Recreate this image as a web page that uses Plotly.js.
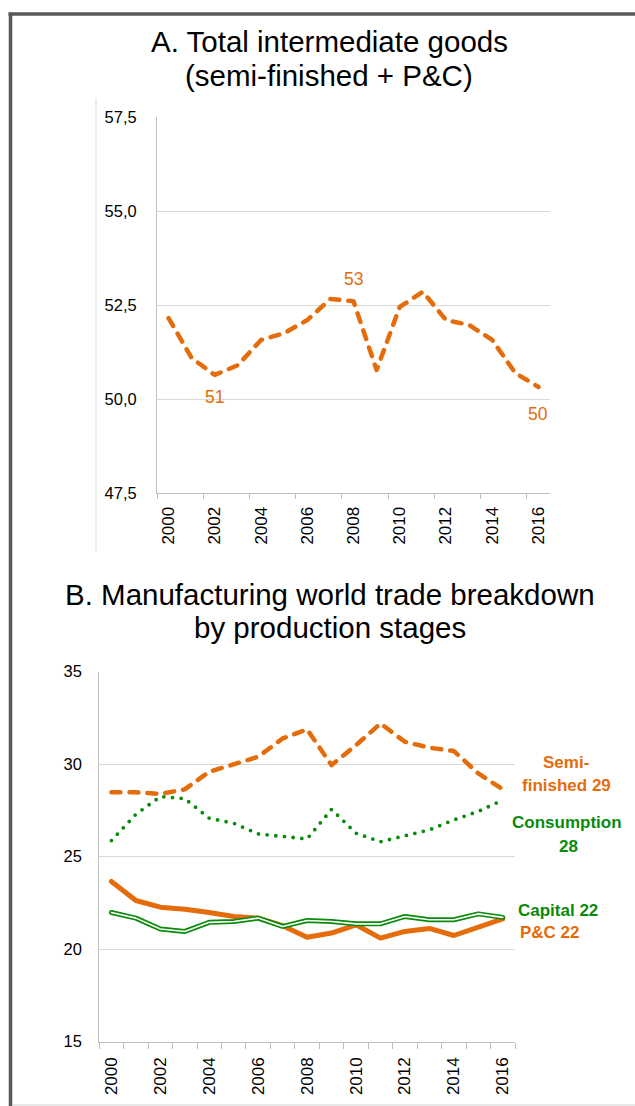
<!DOCTYPE html>
<html><head><meta charset="utf-8">
<script src="https://cdn.plot.ly/plotly-3.0.1.min.js"></script>
<style>
html,body{margin:0;padding:0;background:#fff;overflow:hidden;}
#chart{width:635px;height:1106px;}
path.js-line{stroke-linecap:round;stroke-linejoin:round;}
</style></head><body><div id="chart"></div>
<script>
// ---------- data ----------
const years = [2000,2001,2002,2003,2004,2005,2006,2007,2008,2009,2010,2011,2012,2013,2014,2015,2016];
const xTickVals = [2000,2002,2004,2006,2008,2010,2012,2014,2016];
const xTickLabels = ['2000','2002','2004','2006','2008','2010','2012','2014','2016'];

// A. Total intermediate goods (semi-finished + P&C), % of manufacturing trade
const totalIntermediate = [52.15,51.09,50.64,50.90,51.57,51.75,52.10,52.66,52.60,50.77,52.45,52.85,52.10,51.97,51.57,50.69,50.32];
const labelledYearsA = [2002,2008,2016];
const labelSideA = ['below','above','below'];
const yTicksA = [47.5,50,52.5,55,57.5];

// B. Manufacturing world trade breakdown by production stages
const semiFinished = [28.47,28.47,28.38,28.63,29.58,30.00,30.39,31.38,31.87,29.94,31.02,32.19,31.20,30.88,30.70,29.49,28.63];
const consumption  = [25.86,27.28,28.24,28.13,27.07,26.80,26.22,26.10,25.95,27.55,26.26,25.80,26.13,26.44,26.98,27.44,28.05];
const capital      = [21.97,21.67,21.08,20.95,21.44,21.49,21.67,21.22,21.54,21.49,21.36,21.36,21.76,21.58,21.58,21.90,21.71];
const partsComp    = [23.65,22.62,22.26,22.15,21.97,21.76,21.67,21.26,20.64,20.86,21.31,20.59,20.95,21.11,20.73,21.17,21.63];
const yTicksB = [15,20,25,30,35];

const titleA = ['A. Total intermediate goods','(semi-finished + P&C)'];
const titleB = ['B. Manufacturing world trade breakdown','by production stages'];

// ---------- styling ----------
const W = 635, H = 1106;
const px = x => x / W, py = y => 1 - y / H;
const ORANGE = '#E46C0A', GREEN = '#0A8A0A';
const SANS = "'Liberation Sans',Arial,sans-serif";
const last = a => a[a.length - 1];

const traces = [
  {x: years, y: totalIntermediate, xaxis:'x', yaxis:'y', mode:'lines',
   line:{color:ORANGE, width:4.5, dash:'9px,9px'}, hoverinfo:'skip'},
  {x: years, y: partsComp, xaxis:'x2', yaxis:'y2', mode:'lines',
   line:{color:ORANGE, width:5}, hoverinfo:'skip'},
  {x: years, y: consumption, xaxis:'x2', yaxis:'y2', mode:'lines',
   line:{color:GREEN, width:3.8, dash:'0px,8.7px'}, hoverinfo:'skip'},
  {x: years, y: semiFinished, xaxis:'x2', yaxis:'y2', mode:'lines',
   line:{color:ORANGE, width:4.5, dash:'9px,9px'}, hoverinfo:'skip'},
  {x: years, y: capital, xaxis:'x2', yaxis:'y2', mode:'lines',
   line:{color:GREEN, width:5}, hoverinfo:'skip'},
  {x: years, y: capital, xaxis:'x2', yaxis:'y2', mode:'lines',
   line:{color:'#ffffff', width:1.6}, hoverinfo:'skip'}
];

const yTickFont = {family:SANS, size:16.5, color:'#000'};
const xTickFont = {family:SANS, size:17, color:'#000'};
const xBase = {
  range:[1999.5, 2016.5], tickmode:'array', tickvals:xTickVals, ticktext:xTickLabels,
  tickangle:-90, ticks:'', showgrid:false, zeroline:false, showline:true,
  linecolor:'#BFBFBF', linewidth:1, tickfont:xTickFont, fixedrange:true
};
const yBase = {
  tickmode:'array', showgrid:true, gridcolor:'#D9D9D9', gridwidth:1, zeroline:false,
  showline:true, linecolor:'#BFBFBF', linewidth:1, ticks:'', tickfont:yTickFont, fixedrange:true
};

const annotations = [];
function addTitle(lines, cx, ys) {
  lines.forEach((t, i) => annotations.push({
    xref:'paper', yref:'paper', x:px(cx), y:py(ys[i]), xanchor:'center', yanchor:'middle',
    text:t, showarrow:false, font:{family:SANS, size:29.5, color:'#000'}
  }));
}
addTitle(titleA, 329, [42, 75]);
addTitle(titleB, 330, [594, 627]);

labelledYearsA.forEach((yr, i) => {
  const v = totalIntermediate[years.indexOf(yr)];
  annotations.push({
    xref:'x', yref:'y', x:yr, y:v, text:String(Math.round(v)), showarrow:false,
    yshift: labelSideA[i] === 'above' ? 22 : (yr === 2016 ? -27 : -22),
    font:{family:SANS, size:17.5, color:ORANGE}
  });
});

function sideLabel(text, cx, cy, color) {
  annotations.push({
    xref:'paper', yref:'paper', x:px(cx), y:py(cy), xanchor:'center', yanchor:'middle',
    text:'<b>' + text + '</b>', showarrow:false, font:{family:SANS, size:17, color:color}
  });
}
sideLabel('Semi-', 566, 762, ORANGE);
sideLabel('finished ' + Math.round(last(semiFinished)), 566, 785, ORANGE);
sideLabel('Consumption', 567, 822, GREEN);
sideLabel(String(Math.round(last(consumption))), 568, 846, GREEN);
sideLabel('Capital ' + Math.round(last(capital)), 558, 910.5, GREEN);
sideLabel('P&C ' + Math.round(last(partsComp)), 550, 932.5, ORANGE);

const shapes = [
  {type:'line', xref:'paper', yref:'paper', x0:px(8.5), x1:1, y0:py(14), y1:py(14), line:{color:'#595959', width:3.5}},
  {type:'line', xref:'paper', yref:'paper', x0:px(10.5), x1:px(10.5), y0:py(12.5), y1:0, line:{color:'#595959', width:3.5}},
  {type:'line', xref:'paper', yref:'paper', x0:px(12), x1:1, y0:py(1105), y1:py(1105), line:{color:'#D0D0D0', width:1}},
  {type:'line', xref:'paper', yref:'paper', x0:px(96), x1:px(96), y0:py(98), y1:py(552), line:{color:'#D9D9D9', width:1}}
];

const layout = {
  width:W, height:H, margin:{l:0, r:0, t:0, b:0}, paper_bgcolor:'#fff', plot_bgcolor:'#fff',
  showlegend:false, separators:', ', hovermode:false,
  xaxis: Object.assign({}, xBase, {domain:[px(157), px(550)], anchor:'y', ticklabelstandoff:6,
    minor:{ticks:'outside', ticklen:5, tickcolor:'#BFBFBF', tickwidth:1, tick0:1999.5, dtick:2, showgrid:false}}),
  yaxis: Object.assign({}, yBase, {domain:[py(493), py(117)], anchor:'x', range:[47.5, 57.5],
    tickvals:yTicksA, tickformat:'.1f', ticklabelstandoff:16}),
  xaxis2: Object.assign({}, xBase, {domain:[px(99.2), px(515)], anchor:'y2', ticklabelstandoff:8,
    minor:{ticks:'outside', ticklen:6, tickcolor:'#BFBFBF', tickwidth:1, tick0:1999.5, dtick:1, showgrid:false}}),
  yaxis2: Object.assign({}, yBase, {domain:[py(1041.5), py(671.5)], anchor:'x2', range:[15, 35],
    tickvals:yTicksB, ticklabelstandoff:13}),
  annotations: annotations,
  shapes: shapes
};

Plotly.newPlot('chart', traces, layout, {staticPlot:true, displayModeBar:false});
</script></body></html>
